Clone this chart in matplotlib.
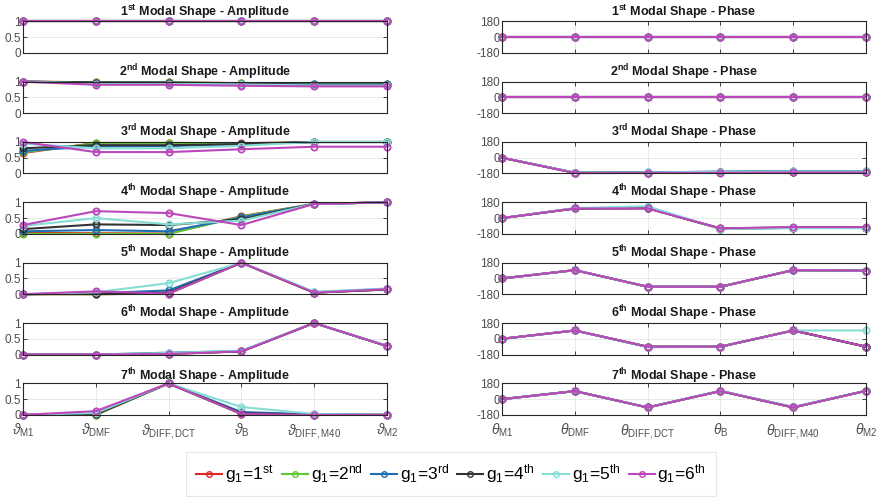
import numpy as np
import matplotlib.pyplot as plt

plt.rcParams['font.family'] = ['Liberation Sans', 'DejaVu Sans']
plt.rcParams['mathtext.fontset'] = 'custom'
plt.rcParams['mathtext.rm'] = 'Liberation Sans'
plt.rcParams['mathtext.it'] = 'Liberation Sans:italic'
plt.rcParams['mathtext.bf'] = 'Liberation Sans:bold'

amp_labels = [r'$\vartheta_{\rm M1}$', r'$\vartheta_{\rm DMF}$', r'$\vartheta_{\rm DIFF,DCT}$',
              r'$\vartheta_{\rm B}$', r'$\vartheta_{\rm DIFF,M40}$', r'$\vartheta_{\rm M2}$']
phase_labels = [r'$\theta_{\rm M1}$', r'$\theta_{\rm DMF}$', r'$\theta_{\rm DIFF,DCT}$',
                r'$\theta_{\rm B}$', r'$\theta_{\rm DIFF,M40}$', r'$\theta_{\rm M2}$']
ordinals = ['st', 'nd', 'rd', 'th', 'th', 'th', 'th']
series_names = [r'g$_1$=1$^{\rm st}$', r'g$_1$=2$^{\rm nd}$', r'g$_1$=3$^{\rm rd}$',
                r'g$_1$=4$^{\rm th}$', r'g$_1$=5$^{\rm th}$', r'g$_1$=6$^{\rm th}$']
colors = ['#E02424', '#62C636', '#1F6DB5', '#333333', '#86DDD6', '#BB47BB']

# amplitude[mode][series] -> 6 values
amp_mode1 = [[1, 1, 1, 1, 1, 1]] * 6
amp_mode2 = [
    [1.0, 0.98, 0.98, 0.95, 0.92, 0.92],
    [1.0, 0.98, 0.98, 0.95, 0.92, 0.92],
    [1.0, 0.97, 0.97, 0.94, 0.91, 0.91],
    [1.0, 0.97, 0.96, 0.93, 0.9, 0.9],
    [1.0, 0.94, 0.94, 0.91, 0.88, 0.88],
    [1.0, 0.9, 0.9, 0.87, 0.85, 0.85],
]
amp_mode3 = [
    [0.65, 0.97, 0.97, 0.96, 1.0, 1.0],
    [0.67, 0.96, 0.96, 0.95, 1.0, 1.0],
    [0.72, 0.86, 0.87, 0.93, 1.0, 1.0],
    [0.8, 0.9, 0.9, 0.93, 1.0, 1.0],
    [0.95, 0.8, 0.8, 0.88, 1.0, 1.0],
    [1.0, 0.68, 0.68, 0.77, 0.85, 0.85],
]
amp_mode4 = [
    [0.03, 0.02, 0.01, 0.56, 0.95, 1.0],
    [0.0, 0.0, 0.0, 0.55, 0.95, 1.0],
    [0.08, 0.12, 0.08, 0.52, 0.95, 1.0],
    [0.15, 0.3, 0.28, 0.46, 0.95, 1.0],
    [0.25, 0.5, 0.3, 0.42, 0.95, 1.0],
    [0.28, 0.72, 0.66, 0.28, 0.95, 1.0],
]
amp_mode5 = [
    [0.0, 0.0, 0.02, 1.0, 0.05, 0.15],
    [0.0, 0.0, 0.02, 1.0, 0.05, 0.15],
    [0.0, 0.03, 0.12, 1.0, 0.06, 0.17],
    [0.0, 0.02, 0.05, 1.0, 0.05, 0.15],
    [0.0, 0.06, 0.35, 1.0, 0.08, 0.18],
    [0.0, 0.09, 0.02, 1.0, 0.05, 0.16],
]
amp_mode6 = [
    [0.0, 0.0, 0.02, 0.1, 1.0, 0.27],
    [0.0, 0.0, 0.02, 0.1, 1.0, 0.27],
    [0.0, 0.0, 0.06, 0.11, 1.0, 0.27],
    [0.0, 0.0, 0.03, 0.1, 1.0, 0.27],
    [0.0, 0.0, 0.05, 0.12, 1.0, 0.28],
    [0.0, 0.0, 0.02, 0.1, 1.0, 0.27],
]
amp_mode7 = [
    [0.0, 0.0, 1.0, 0.03, 0.0, 0.0],
    [0.0, 0.0, 1.0, 0.03, 0.0, 0.0],
    [0.0, 0.03, 1.0, 0.09, 0.02, 0.0],
    [0.0, 0.02, 1.0, 0.05, 0.01, 0.0],
    [0.0, 0.06, 1.0, 0.25, 0.03, 0.0],
    [0.0, 0.12, 1.0, 0.03, 0.0, 0.0],
]
amplitude = [amp_mode1, amp_mode2, amp_mode3, amp_mode4, amp_mode5, amp_mode6, amp_mode7]

ph_mode1 = [[0, 0, 0, 0, 0, 0]] * 6
ph_mode2 = [[0, 0, 0, 0, 0, 0]] * 6
ph_mode3 = [
    [0, -172, -170, -165, -160, -160],
    [0, -172, -170, -165, -160, -160],
    [0, -170, -168, -158, -152, -152],
    [0, -172, -170, -162, -158, -158],
    [0, -170, -168, -160, -155, -155],
    [0, -175, -174, -172, -168, -168],
]
ph_mode4 = [
    [0, 110, 112, -118, -108, -108],
    [0, 110, 112, -118, -108, -108],
    [0, 112, 120, -122, -112, -112],
    [0, 110, 115, -120, -110, -110],
    [0, 115, 135, -125, -115, -115],
    [0, 110, 110, -118, -102, -102],
]
ph_mode5 = [[0, 95, -95, -95, 95, 90]] * 6
ph_mode6 = [
    [0, 95, -90, -90, 95, -90],
    [0, 95, -90, -90, 95, -90],
    [0, 95, -95, -92, 95, -90],
    [0, 95, -90, -90, 95, -90],
    [0, 95, -92, -90, 95, 95],
    [0, 95, -90, -90, 95, -90],
]
ph_mode7 = [
    [0, 92, -95, 92, -95, 95],
    [0, 92, -95, 92, -95, 95],
    [0, 92, -95, 95, -90, 95],
    [0, 92, -95, 92, -95, 95],
    [0, 92, -95, 95, -92, 95],
    [0, 92, -95, 92, -95, 95],
]
phase = [ph_mode1, ph_mode2, ph_mode3, ph_mode4, ph_mode5, ph_mode6, ph_mode7]

x = np.arange(6)
fig = plt.figure(figsize=(8.8, 4.98), dpi=100)
H = 498.0
W = 880.0

def style(ax, yticks, ylim, show_x):
    ax.set_xlim(0, 5)
    ax.set_ylim(*ylim)
    ax.set_yticks(yticks)
    ax.set_yticklabels([('%g' % t) for t in yticks])
    ax.tick_params(direction='in', length=3, width=0.6, top=True, right=True,
                   labelsize=8.5, colors='#262626', labelcolor='#4d4d4d', pad=1.5)
    if show_x:
        ax.set_xticks(x)
        ax.grid(True, color='#e5e5e5', linewidth=0.6)
    else:
        ax.set_xticks([])
        ax.grid(True, axis='y', color='#e5e5e5', linewidth=0.6)
    ax.set_axisbelow(True)
    for s in ax.spines.values():
        s.set_color('#262626')
        s.set_linewidth(0.8)

for i in range(7):
    top = 21.3 + i * 60.35
    bottom = 1 - (top + 31.5) / H
    axl = fig.add_axes([23 / W, bottom, 364 / W, 31.5 / H])
    axr = fig.add_axes([502 / W, bottom, 364 / W, 31.5 / H])
    for k in range(6):
        axl.plot(x, amplitude[i][k], '-o', color=colors[k], lw=1.5, ms=4.5,
                 mfc='none', mew=1.3, clip_on=False, label=series_names[k])
        axr.plot(x, phase[i][k], '-o', color=colors[k], lw=1.5, ms=4.5,
                 mfc='none', mew=1.3, clip_on=False)
    style(axl, [0, 0.5, 1], (0, 1), i == 6)
    style(axr, [-180, 0, 180], (-180, 180), True)
    n = i + 1
    axl.set_title(r'$\mathbf{%d^{%s}}$ Modal Shape - Amplitude' % (n, ordinals[i]),
                  fontsize=9, fontweight='bold', pad=2.5, color='#1a1a1a')
    axr.set_title(r'$\mathbf{%d^{%s}}$ Modal Shape - Phase' % (n, ordinals[i]),
                  fontsize=9, fontweight='bold', pad=2.5, color='#1a1a1a')
    if i == 6:
        axl.set_xticklabels(amp_labels, fontsize=10)
        axr.set_xticklabels(phase_labels, fontsize=10)
        axl.tick_params(axis='x', pad=5)
        axr.tick_params(axis='x', pad=5)
        handles, labels = axl.get_legend_handles_labels()
    else:
        axr.set_xticklabels([])

leg = fig.legend(handles, labels, loc='center', bbox_to_anchor=(451 / W, 1 - 474 / H),
                 ncol=6, fontsize=12.5, frameon=True, handlelength=1.5, handletextpad=0.15,
                 columnspacing=0.5, borderpad=0.6, fancybox=False)
leg.get_frame().set_edgecolor('#e0e0e0')
leg.get_frame().set_linewidth(0.8)
for h in leg.legend_handles:
    h.set_markersize(4)
    h.set_markeredgewidth(1.0)

fig.savefig('out.png', dpi=100)
